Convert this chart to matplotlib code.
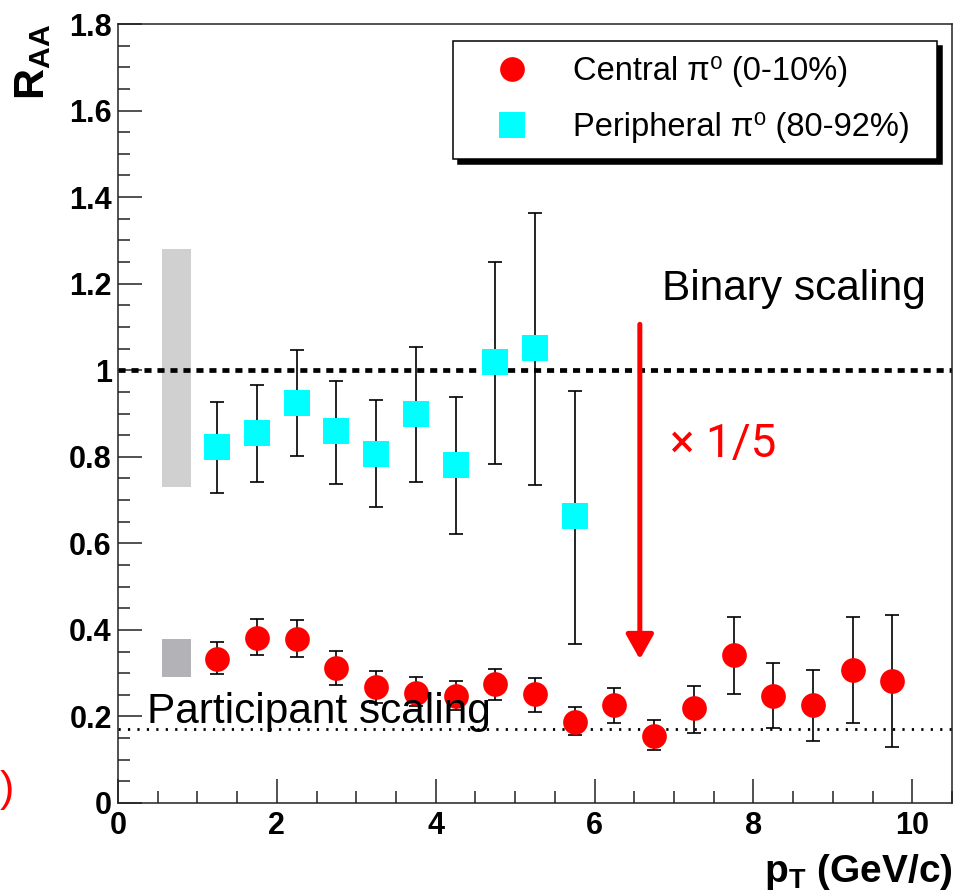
import matplotlib
matplotlib.use("Agg")
import matplotlib.pyplot as plt
from matplotlib.ticker import MultipleLocator, FixedLocator, FixedFormatter
import numpy as np

plt.rcParams['font.family'] = ['Liberation Sans', 'DejaVu Sans']
plt.rcParams['mathtext.fontset'] = 'custom'
plt.rcParams['mathtext.rm'] = 'Liberation Sans'
plt.rcParams['mathtext.bf'] = 'Liberation Sans:bold'

# pT bin centres (GeV/c)
pt_central = [1.25, 1.75, 2.25, 2.75, 3.25, 3.75, 4.25, 4.75, 5.25,
              5.75, 6.25, 6.75, 7.25, 7.75, 8.25, 8.75, 9.25, 9.75]
raa_central = [0.332, 0.382, 0.378, 0.312, 0.267, 0.255, 0.247, 0.274, 0.251,
               0.188, 0.226, 0.154, 0.219, 0.341, 0.248, 0.226, 0.308, 0.282]
central_hi = [0.371, 0.426, 0.422, 0.351, 0.304, 0.292, 0.282, 0.310, 0.288,
              0.222, 0.266, 0.192, 0.270, 0.430, 0.323, 0.307, 0.430, 0.434]
central_lo = [0.297, 0.341, 0.337, 0.273, 0.230, 0.224, 0.216, 0.238, 0.210,
              0.158, 0.184, 0.122, 0.162, 0.251, 0.174, 0.143, 0.184, 0.129]

pt_periph = [1.25, 1.75, 2.25, 2.75, 3.25, 3.75, 4.25, 4.75, 5.25, 5.75]
raa_periph = [0.822, 0.855, 0.925, 0.859, 0.807, 0.899, 0.781, 1.019, 1.052, 0.663]
periph_hi = [0.927, 0.966, 1.046, 0.976, 0.931, 1.054, 0.938, 1.251, 1.363, 0.953]
periph_lo = [0.716, 0.742, 0.801, 0.738, 0.683, 0.742, 0.622, 0.783, 0.734, 0.367]

# normalisation boxes (x range, y range)
box_x = [0.55, 0.92]
box_periph = [0.73, 1.28]
box_central = [0.29, 0.38]

binary_level = 1.0
participant_level = 0.17
arrow_x = 6.57
arrow_from = 1.106
arrow_to = 0.332

yticks = [0, 0.2, 0.4, 0.6, 0.8, 1.0, 1.2, 1.4, 1.6, 1.8]
ylabels = ['0', '0.2', '0.4', '0.6', '0.8', '1', '1.2', '1.4', '1.6', '1.8']
xticks = [0, 2, 4, 6, 8, 10]
xlabels = ['0', '2', '4', '6', '8', '10']

fig = plt.figure(figsize=(9.65, 8.93), dpi=100)
ax = fig.add_axes([0.1223, 0.1008, 0.8642, 0.8723])
ax.set_xlim(0, 10.5)
ax.set_ylim(0, 1.8)

# normalisation uncertainty boxes
ax.bar((box_x[0] + box_x[1]) / 2, box_periph[1] - box_periph[0], bottom=box_periph[0],
       width=box_x[1] - box_x[0], color='#d0d0d0', zorder=1)
ax.bar((box_x[0] + box_x[1]) / 2, box_central[1] - box_central[0], bottom=box_central[0],
       width=box_x[1] - box_x[0], color='#b3b3b7', zorder=1)

# reference lines
ax.axhline(binary_level, color='black', lw=3.4, dashes=(1.5, 1.25), zorder=2)
ax.axhline(participant_level, color='black', lw=2.0, dashes=(0.8, 2.6), zorder=2)

# error bars
c = np.array(raa_central)
ax.errorbar(pt_central, c, yerr=[c - np.array(central_lo), np.array(central_hi) - c],
            fmt='none', ecolor='black', elinewidth=1.2, capsize=5, capthick=1.2, zorder=3)
p = np.array(raa_periph)
ax.errorbar(pt_periph, p, yerr=[p - np.array(periph_lo), np.array(periph_hi) - p],
            fmt='none', ecolor='black', elinewidth=1.2, capsize=5, capthick=1.2, zorder=3)

# markers
ax.plot(pt_central, raa_central, 'o', color='#ff0000', ms=17.8, mew=0, zorder=4,
        label='Central \u03c0\u2070 (0-10%)')
ax.plot(pt_periph, raa_periph, 's', color='#00ffff', ms=18.5, mew=0, zorder=4,
        label='Peripheral \u03c0\u2070 (80-92%)')

# arrow and annotations
ax.annotate('', xy=(arrow_x, arrow_to), xytext=(arrow_x, arrow_from),
            arrowprops=dict(arrowstyle='-|>,head_length=0.75,head_width=0.42',
                            color='#ff0000', lw=3.6, mutation_scale=20,
                            shrinkA=0, shrinkB=0), zorder=5)
ax.text(6.95, 0.80, '\u00d7 1/5', color='#ff0000', fontsize=33, family='Roboto',
        va='baseline', ha='left')
ax.text(6.848, 1.1625, 'Binary scaling', fontsize=30.5, va='baseline', ha='left')
ax.text(0.365, 0.184, 'Participant scaling', fontsize=30.5, va='baseline', ha='left',
        zorder=6)

# axes style
ax.xaxis.set_major_locator(FixedLocator(xticks))
ax.xaxis.set_major_formatter(FixedFormatter(xlabels))
ax.xaxis.set_minor_locator(MultipleLocator(0.5))
ax.yaxis.set_major_locator(FixedLocator(yticks))
ax.yaxis.set_major_formatter(FixedFormatter(ylabels))
ax.yaxis.set_minor_locator(MultipleLocator(0.05))
ax.tick_params(which='both', direction='in', top=False, right=False, width=1.1,
               color='#222222')
ax.tick_params(which='major', length=17)
ax.tick_params(which='minor', length=8.6)
ax.tick_params(axis='y', pad=4.5)
ax.tick_params(axis='x', pad=6)
for lab in ax.get_xticklabels() + ax.get_yticklabels():
    lab.set_fontsize(22)
    lab.set_fontweight('bold')
for s in ax.spines.values():
    s.set_linewidth(1.1)
    s.set_color('#222222')

fig.text(33 / 965, 1 - 24 / 893, r'$\mathbf{R}_{\mathbf{AA}}$', fontsize=31,
         rotation=90, ha='center', va='top')
fig.text(953 / 965, 1 - 882 / 893, r'$\mathbf{p}_{\mathbf{T}}$ (GeV/c)', fontsize=28,
         fontweight='bold', ha='right', va='baseline')
fig.text(0.0, 1 - 790 / 893, ')', color='#ff0000', fontsize=31, ha='left', va='center')

leg = ax.legend(loc='upper left', bbox_to_anchor=(0.4017, 0.827, 0.5803, 0.151),
                mode='expand', fontsize=23.5, frameon=True, fancybox=False,
                shadow={'ox': 3.6, 'oy': -3.6, 'facecolor': 'black',
                        'edgecolor': 'black', 'alpha': 1},
                borderpad=0.47, labelspacing=0.76, handlelength=2.68,
                handletextpad=0.53, borderaxespad=0, markerscale=1.0)
leg.get_frame().set_edgecolor('black')
leg.get_frame().set_linewidth(1.1)
leg.get_frame().set_alpha(1)

fig.savefig('out.png', dpi=100)
